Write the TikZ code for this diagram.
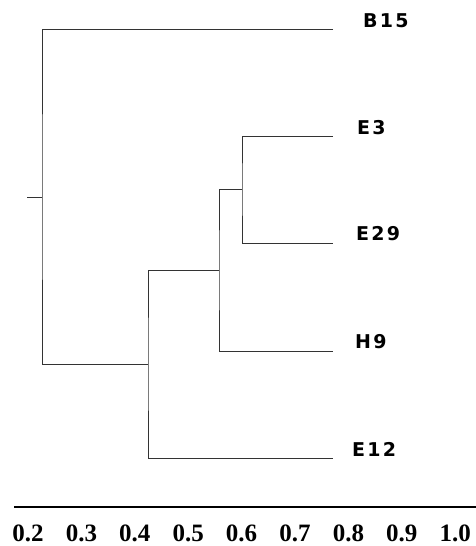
\documentclass[tikz,border=0pt]{standalone}
\usepackage{fontspec}
\newfontfamily\labfont[LetterSpace=12]{DejaVu Sans}
\newfontfamily\axfont{Liberation Serif}
\begin{document}
\begin{tikzpicture}[x=1pt,y=-1pt,
  branch/.style={draw=black!80,line width=1pt},
  leaflabel/.style={anchor=west,inner sep=0pt,font=\labfont\bfseries\fontsize{19}{22}\selectfont},
  ticklabel/.style={anchor=base,inner sep=0pt,font=\axfont\bfseries\fontsize{25}{28}\selectfont}]
\useasboundingbox (0,0) rectangle (476,546);
% internal nodes
\coordinate (root) at (42,197);
\coordinate (stub) at (27,197);
\coordinate (n1) at (148,364);
\coordinate (n2) at (219,270);
\coordinate (n3) at (242,189);
% leaf ends
\coordinate (lB15) at (333,29);
\coordinate (lE3) at (333,136);
\coordinate (lE29) at (333,243);
\coordinate (lH9) at (333,351);
\coordinate (lE12) at (333,458);
% labels
\node[leaflabel] (tB15) at (363,21) {B15};
\node[leaflabel] (tE3) at (357,128) {E3};
\node[leaflabel] (tE29) at (356,234) {E29};
\node[leaflabel] (tH9) at (355,342) {H9};
\node[leaflabel] (tE12) at (352,449) {E12};
% tree
\draw[branch] (stub) -- (root);
\draw[branch] (lB15) -| (root) |- (n1);
\draw[branch] (n2) -| (n1) |- (lE12);
\draw[branch] (n3) -| (n2) |- (lH9);
\draw[branch] (lE3) -| (n3) |- (lE29);
% axis
\coordinate (axL) at (14,507);
\coordinate (axR) at (476,507);
\draw[line width=2.4pt] (axL) -- (axR);
\foreach \v [count=\i from 0] in {0.2,0.3,0.4,0.5,0.6,0.7,0.8,0.9,1.0}{
  \node[ticklabel] (tick\i) at ({28+53.4*\i},541) {\v};
}
\end{tikzpicture}
\end{document}
